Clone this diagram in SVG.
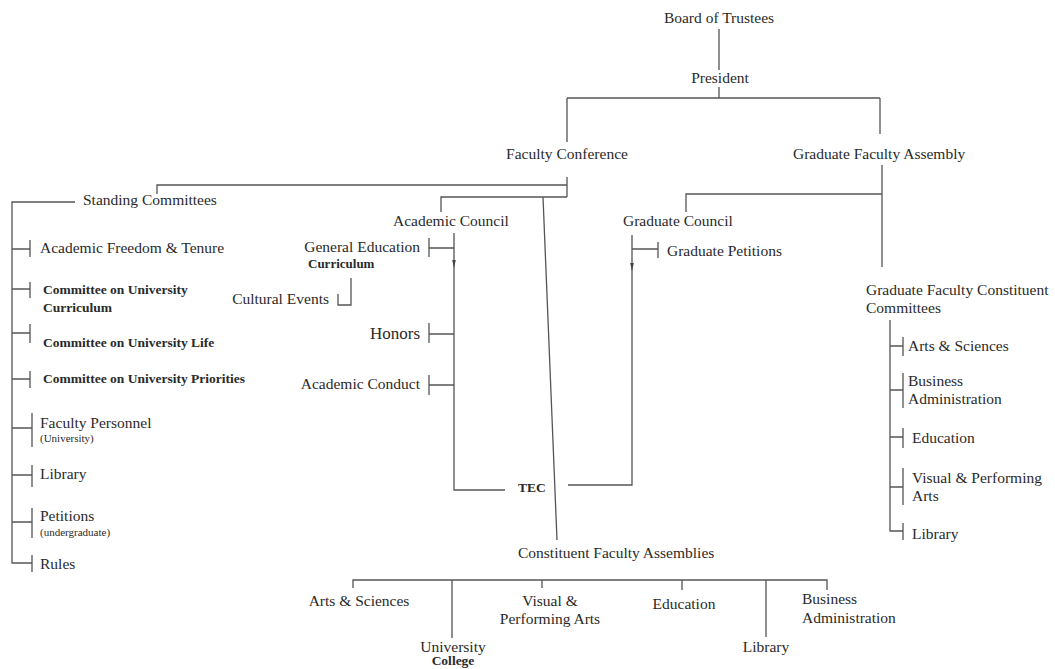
<svg xmlns="http://www.w3.org/2000/svg" width="1055" height="669" viewBox="0 0 1055 669">
<style>
text{font-family:"Liberation Serif","Times New Roman",serif;font-size:15.5px;fill:#2a2a2a}
.b{font-weight:bold;font-size:13.5px}
.s{font-size:11px}
.h{font-size:17px}
.m{text-anchor:middle}
.e{text-anchor:end}
#connectors path{fill:none;stroke:#555;stroke-width:1.3}
#connectors path.mk{fill:#444;stroke:none}
</style>
<rect width="1055" height="669" fill="#fff"/>
<g id="connectors">
<path d="M719 29V70M719 87V98M567 98H880M567 98V142M880 98V134"/>
<path d="M567 177V197M157 194V185H567M441 212V197H567M543 197L557 540"/>
<path d="M75 202H12V563H32"/>
<path d="M12 249H30M30 240V257M12 289H30M30 282V298M12 333H30M30 324V343M12 379H30M30 371V388M12 428H32M32 413V447M12 475H32M32 465V487M12 522H32M32 508V538M32 555V572"/>
<path d="M454 233V490H505M568 485H632V235"/>
<path d="M429 248H454M429 238V257M429 334H454M429 323V343M429 385H454M429 375V395"/>
<path d="M351 278V305H338V294"/>
<path d="M686 212V194H882M882 165V267"/>
<path d="M632 249H658M658 242V258"/>
<path d="M890 320V531H903M890 346H903M903 337V356M890 390H903M903 373V408M890 437H903M903 428V448M890 487H903M903 468V505M903 523V540"/>
<path d="M353 588V580H827V590M452 580V638M542 580V588M682 580V590M766 580V637"/>
<path class="mk" d="M452.2 260L455.8 260L454 268Z"/>
<path class="mk" d="M630.2 263L633.8 263L632 271Z"/>
</g>
<g id="board"><text class="m" x="719" y="23">Board of Trustees</text></g>
<g id="president"><text class="m" x="720" y="83">President</text></g>
<g id="faculty-conference"><text class="m" x="567" y="159">Faculty Conference</text></g>
<g id="graduate-faculty-assembly"><text x="793" y="159">Graduate Faculty Assembly</text></g>
<g id="standing-committees"><text x="83" y="205">Standing Committees</text></g>
<g id="sc-aft"><text x="40" y="253">Academic Freedom &amp; Tenure</text></g>
<g id="sc-cuc"><text class="b" x="43" y="294">Committee on University</text><text class="b" x="43" y="312">Curriculum</text></g>
<g id="sc-cul"><text class="b" x="43" y="347">Committee on University Life</text></g>
<g id="sc-cup"><text class="b" x="43" y="383">Committee on University Priorities</text></g>
<g id="sc-fp"><text x="40" y="428">Faculty Personnel</text><text class="s" x="40" y="442">(University)</text></g>
<g id="sc-library"><text x="40" y="479">Library</text></g>
<g id="sc-petitions"><text x="40" y="521">Petitions</text><text class="s" x="40" y="536">(undergraduate)</text></g>
<g id="sc-rules"><text x="40" y="569">Rules</text></g>
<g id="academic-council"><text x="393" y="226">Academic Council</text></g>
<g id="gen-ed"><text class="e" x="420" y="252">General Education</text><text class="b" style="font-size:13px" x="308" y="268">Curriculum</text></g>
<g id="cultural-events"><text class="e" x="329" y="304">Cultural Events</text></g>
<g id="honors"><text class="e h" x="420" y="339">Honors</text></g>
<g id="academic-conduct"><text class="e" x="420" y="389">Academic Conduct</text></g>
<g id="tec"><text class="b" x="518" y="492">TEC</text></g>
<g id="graduate-council"><text x="623" y="226">Graduate Council</text></g>
<g id="graduate-petitions"><text x="667" y="256">Graduate Petitions</text></g>
<g id="gfcc"><text x="866" y="295">Graduate Faculty Constituent</text><text x="866" y="313">Committees</text></g>
<g id="g-arts"><text x="908" y="351">Arts &amp; Sciences</text></g>
<g id="g-business"><text x="908" y="386">Business</text><text x="908" y="404">Administration</text></g>
<g id="g-education"><text x="912" y="443">Education</text></g>
<g id="g-vpa"><text x="912" y="483">Visual &amp; Performing</text><text x="912" y="501">Arts</text></g>
<g id="g-library"><text x="912" y="539">Library</text></g>
<g id="constituent-faculty-assemblies"><text x="518" y="558">Constituent Faculty Assemblies</text></g>
<g id="c-arts"><text class="m" x="359" y="606">Arts &amp; Sciences</text></g>
<g id="c-univ"><text class="m" x="453" y="652">University</text><text class="m b" x="453" y="665">College</text></g>
<g id="c-vpa"><text class="m" x="550" y="606">Visual &amp;</text><text class="m" x="550" y="624">Performing Arts</text></g>
<g id="c-education"><text class="m" x="684" y="609">Education</text></g>
<g id="c-library"><text class="m" x="766" y="652">Library</text></g>
<g id="c-business"><text x="802" y="604">Business</text><text x="802" y="623">Administration</text></g>
</svg>
